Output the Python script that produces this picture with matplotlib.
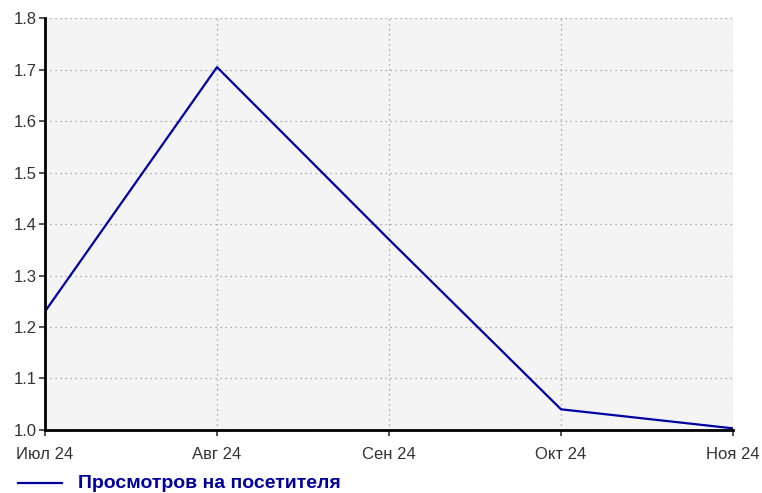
import matplotlib.pyplot as plt
from matplotlib.lines import Line2D

months = ["Июл 24", "Авг 24", "Сен 24", "Окт 24", "Ноя 24"]
views = [1.23, 1.705, 1.37, 1.04, 1.003]
series_name = "Просмотров на посетителя"

plt.rcParams["font.family"] = ["Liberation Sans", "DejaVu Sans"]

fig = plt.figure(figsize=(7.62, 4.93), dpi=100)
ax = fig.add_axes([0.059, 0.128, 0.903, 0.835])
ax.set_facecolor("#f4f4f4")

x = list(range(len(months)))
ax.plot(x, views, color="#0000a0", lw=1.6)

ax.set_xlim(0, len(months) - 1)
ax.set_ylim(1.0, 1.8)
ax.set_xticks(x)
ax.set_xticklabels(months)
ax.set_yticks([1.0, 1.1, 1.2, 1.3, 1.4, 1.5, 1.6, 1.7, 1.8])
ax.grid(True, color="#999999", linestyle=(0, (1, 3)), lw=0.9)
ax.tick_params(colors="#333333", labelsize=12, length=4, width=1.2)
ax.tick_params(axis="x", pad=8)
ax.tick_params(axis="y", pad=2)
for s in ["top", "right"]:
    ax.spines[s].set_visible(False)
for s in ["left", "bottom"]:
    ax.spines[s].set_linewidth(2)
    ax.spines[s].set_color("black")

fig.add_artist(Line2D([0.024, 0.081], [0.02, 0.02], color="#0000a0", lw=1.6))
fig.text(0.102, 0.02, series_name, color="#0000a0", fontsize=14,
         fontweight="bold", va="center")

plt.savefig("out.png")
